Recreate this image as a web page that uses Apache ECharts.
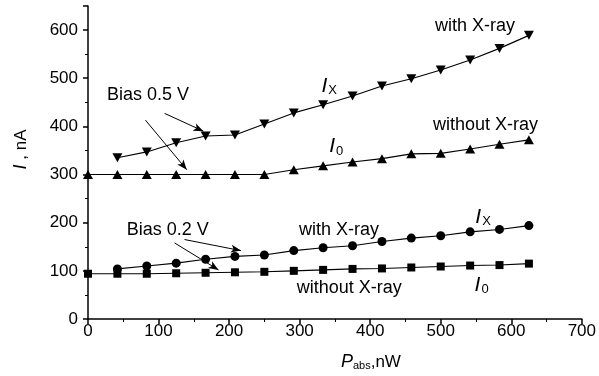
<!DOCTYPE html>
<html>
<head>
<meta charset="utf-8">
<script src="https://cdn.jsdelivr.net/npm/echarts@6/dist/echarts.min.js"></script>
<style>
  html, body { margin: 0; padding: 0; background: #fff; }
  #main { width: 599px; height: 376px; }
</style>
</head>
<body>
<div id="main"></div>
<script>
  // absorbed power, nW
  var pAbs = [0, 41.7, 83.3, 125, 166.7, 208.3, 250, 291.7, 333.3, 375, 416.7, 458.3, 500, 541.7, 583.3, 625];
  // current, nA (null = no point)
  var bias05WithXray = [null, 335, 347, 366, 380, 382, 405, 428, 445, 463, 484, 499, 517, 538, 562, 589];
  var bias05NoXray = [300, 300, 300, 300, 300, 300, 300, 310, 318, 326, 333, 343, 344, 353, 363, 372];
  var bias02WithXray = [null, 104, 110, 116, 124, 130, 133, 142, 148, 152, 161, 168, 173, 181, 186, 194];
  var bias02NoXray = [94, 94, 94, 95, 96, 97, 98, 100, 102, 104, 105, 107, 109, 111, 112, 115];

  // annotation texts, placed in data units
  var notes = [
    { text: 'Bias 0.5 V', at: [27, 465] },
    { text: 'with X-ray', at: [492, 608] },
    { text: 'without X-ray', at: [489, 402] },
    { text: 'Bias 0.2 V', at: [55, 185] },
    { text: 'with X-ray', at: [299, 185] },
    { text: 'without X-ray', at: [296, 65] }
  ];
  var currentLabels = [
    { text: '{i|I}{sub|X}', at: [342, 484] },
    { text: '{i|I}{sub|0}', at: [352, 358] },
    { text: '{i|I}{sub|X}', at: [560, 211] },
    { text: '{i|I}{sub|0}', at: [558, 70] }
  ];
  // arrows from the "Bias" labels, [from, to] in data units
  var arrows = [
    [[108.6, 427], [163.6, 390]],
    [[81.4, 413], [140, 310]],
    [[136.8, 165], [216.8, 142]],
    [[122.7, 158], [185, 102]]
  ];

  var FONT = 'Liberation Sans, Arial, sans-serif';

  function pairs(ys) {
    var out = [];
    for (var i = 0; i < ys.length; i++) {
      if (ys[i] != null) out.push([pAbs[i], ys[i]]);
    }
    return out;
  }

  function lineSeries(name, ys, symbol, size, rotate) {
    return {
      name: name,
      type: 'line',
      data: pairs(ys),
      symbol: symbol,
      symbolSize: size,
      symbolRotate: rotate || 0,
      showSymbol: true,
      clip: false,
      itemStyle: { color: '#000', borderWidth: 0 },
      lineStyle: { color: '#000', width: 1.1 },
      emphasis: { disabled: true },
      z: 3
    };
  }

  var axisCommon = {
    type: 'value',
    axisLine: { show: true, onZero: false, lineStyle: { color: '#000', width: 1.5 } },
    axisTick: { show: true, inside: false, length: 5, lineStyle: { color: '#000', width: 1.5 } },
    minorTick: { show: true, splitNumber: 2, length: 3, lineStyle: { color: '#000', width: 1 } },
    splitLine: { show: false },
    nameLocation: 'middle'
  };

  var myChart = echarts.init(document.getElementById('main'));
  var s05 = lineSeries('0.5 V without X-ray', bias05NoXray, 'triangle', [10, 9]);
  s05.markLine = {
    silent: true,
    symbol: ['none', 'arrow'],
    symbolSize: [6, 10],
    label: { show: false },
    lineStyle: { color: '#000', width: 1, type: 'solid' },
    emphasis: { disabled: true },
    animation: false,
    data: arrows.map(function (a) {
      return [{ coord: a[0] }, { coord: a[1] }];
    })
  };

  myChart.setOption({
    animation: false,
    backgroundColor: '#fff',
    grid: { left: 88, right: 15, top: 6, bottom: 57, containLabel: false },
    xAxis: Object.assign({}, axisCommon, {
      min: 0,
      max: 700,
      interval: 100,
      axisLabel: { color: '#000', fontSize: 17, fontFamily: FONT, margin: 4 },
      name: '{i|P}{sub|abs},nW',
      nameGap: 33,
      nameTextStyle: {
        color: '#000', fontSize: 17, fontFamily: FONT,
        padding: [0, 0, 0, 72],
        rich: {
          i: { fontStyle: 'italic', fontSize: 18, fontFamily: FONT, color: '#000', lineHeight: 20 },
          sub: { fontSize: 11, fontFamily: FONT, color: '#000', padding: [7, 0, 0, 0] }
        }
      }
    }),
    yAxis: Object.assign({}, axisCommon, {
      min: 0,
      max: 650,
      interval: 100,
      axisLabel: { color: '#000', fontSize: 17, fontFamily: FONT, margin: 10, showMaxLabel: false },
      name: '{i|I} , nA',
      nameGap: 58,
      nameTextStyle: {
        color: '#000', fontSize: 17, fontFamily: FONT,
        padding: [0, 0, 0, 26],
        rich: {
          i: { fontStyle: 'italic', fontSize: 18, fontFamily: FONT, color: '#000' }
        }
      }
    }),
    series: [
      lineSeries('0.5 V with X-ray', bias05WithXray, 'triangle', [10, 9], 180),
      s05,
      lineSeries('0.2 V with X-ray', bias02WithXray, 'circle', 9),
      lineSeries('0.2 V without X-ray', bias02NoXray, 'rect', 8)
    ]
  });

  // put the annotation texts where the data coords land
  var graphics = [];
  notes.forEach(function (n) {
    var p = myChart.convertToPixel({ gridIndex: 0 }, n.at);
    graphics.push({
      type: 'text', x: p[0], y: p[1], silent: true, z: 10,
      style: { text: n.text, fill: '#000', font: '18px ' + FONT, textAlign: 'left', textVerticalAlign: 'middle' }
    });
  });
  currentLabels.forEach(function (n) {
    var p = myChart.convertToPixel({ gridIndex: 0 }, n.at);
    graphics.push({
      type: 'text', x: p[0], y: p[1], silent: true, z: 10,
      style: {
        text: n.text, fill: '#000', textAlign: 'center', textVerticalAlign: 'middle',
        rich: {
          i: { fontStyle: 'italic', fontSize: 21, fontFamily: FONT, fill: '#000', lineHeight: 22 },
          sub: { fontSize: 13, fontFamily: FONT, fill: '#000', padding: [9, 0, 0, 1] }
        }
      }
    });
  });
  myChart.setOption({ graphic: graphics });
</script>
</body>
</html>
